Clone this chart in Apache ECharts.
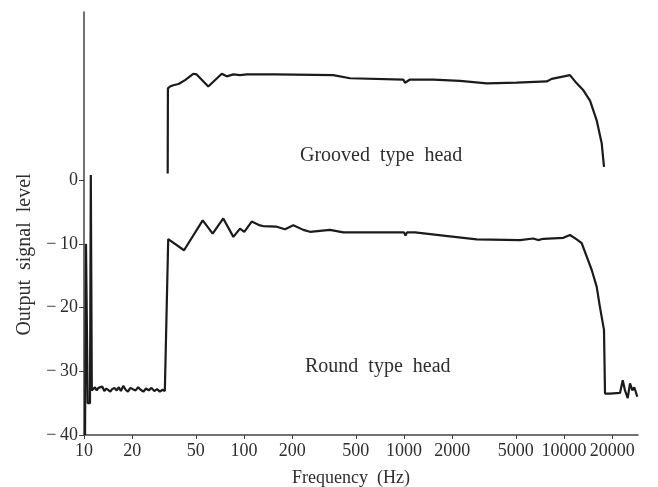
<!DOCTYPE html>
<html>
<head>
<meta charset="utf-8">
<script src="https://cdn.jsdelivr.net/npm/echarts@6/dist/echarts.min.js"></script>
<style>
html,body{margin:0;padding:0;background:#fff;}
#chart{width:658px;height:487px;}
</style>
</head>
<body>
<div id="chart"></div>
<script>
// X tick labels (Hz) and Y tick values
const xTicks = [10, 20, 50, 100, 200, 500, 1000, 2000, 5000, 10000, 20000];
const yTicks = [-40, -30, -20, -10, 0];

// Round type head
const roundFreq = [10.15, 10.29, 10.55, 10.9, 11.03, 11.19,
  11.4, 11.7, 12.0, 12.3, 12.6, 13.0, 13.4, 13.8, 14.2, 14.6, 15.0, 15.5, 16.0, 16.5, 17.0, 17.6,
  18.2, 18.8, 19.5, 20.2, 21.0, 21.8, 22.6, 23.5, 24.4, 25.4, 26.4, 27.5, 28.6, 29.8, 31.0, 32.0, 32.5,
  33.6, 42.2, 55.2, 63.7, 74.2, 85.8, 94.4, 100.4, 111.7, 125.9, 131.5, 160, 180.4, 203.4, 234.8,
  258.5, 344.7, 417.6, 742.6, 1000, 1021, 1044, 1172, 1762, 2846, 5309, 6431, 6880, 7430, 9908,
  10900, 12000, 12900, 13870, 14900, 16000, 16790, 17780, 18040, 19390, 22390, 23280, 24050, 25010,
  25850, 26730, 27490, 28710];
const roundLevel = [-40, -10, -35, -35, 0.8, -33,
  -32.8, -32.5, -33.0, -32.6, -32.9, -32.4, -33.1, -32.7, -32.5, -33.2, -32.8, -32.6, -33.0, -32.5, -33.1, -32.3,
  -32.9, -33.2, -32.6, -32.8, -33.0, -32.5, -32.9, -33.2, -32.7, -33.0, -32.6, -33.1, -32.8, -33.2, -32.9, -33.1, -33.2,
  -9.25, -11, -6.3, -8.4, -6.0, -8.9, -7.6, -8.1, -6.5, -7.1, -7.2, -7.3, -7.7, -7.06, -7.8,
  -8.1, -7.8, -8.2, -8.2, -8.2, -8.7, -8.2, -8.2, -8.7, -9.3, -9.4, -9.15, -9.4, -9.2, -9.05,
  -8.6, -9.3, -9.9, -12, -14.1, -16.7, -20, -23.5, -33.5, -33.5, -33.4, -31.4, -33.0, -34.2,
  -31.9, -33.0, -32.5, -34.0];

// Grooved type head (drawn offset above on the same scale)
const groovedFreq = [33.35, 33.45, 34.5, 36.1, 39.0, 42.8, 48.2, 50.6, 59.8, 72.6, 78, 85.8, 94.4, 104,
  156, 361, 459.7, 990, 1014, 1090, 1525, 2239, 3289, 5058, 7796, 8375, 10900, 12000, 13210, 14540,
  16000, 17210, 17780];
const groovedLevel = [1.05, 14.4, 14.7, 14.9, 15.1, 15.7, 16.7, 16.6, 14.7, 16.7, 16.3, 16.6, 16.5, 16.6,
  16.6, 16.5, 16.0, 15.8, 15.3, 15.8, 15.8, 15.6, 15.2, 15.3, 15.5, 15.9, 16.5, 15.2, 14.1, 12.5,
  9.4, 5.75, 2.1];

const zip = (a, b) => a.map((v, i) => [v, b[i]]);
const serif = '"Liberation Serif", "DejaVu Serif", serif';
const ink = '#1b1b1b';
const textColor = '#2e2e2e';

const chart = echarts.init(document.getElementById('chart'));
chart.setOption({
  animation: false,
  backgroundColor: '#fff',
  grid: {left: 84, right: 20, top: 12, bottom: 52, containLabel: false, outerBoundsMode: 'none'},
  xAxis: {
    type: 'log', logBase: 10, min: 10, max: 29000,
    name: 'Frequency  (Hz)', nameLocation: 'middle', nameGap: 34,
    nameTextStyle: {fontFamily: serif, fontSize: 18, color: textColor, padding: [0, 20, 0, 0]},
    axisLine: {show: true, onZero: false, lineStyle: {color: '#444', width: 1.5}},
    axisTick: {show: true, length: 4, customValues: xTicks, lineStyle: {color: '#444'}},
    axisLabel: {customValues: xTicks, fontFamily: serif, fontSize: 18, color: textColor, margin: 7,
      formatter: v => String(Math.round(v))},
    splitLine: {show: false},
    minorTick: {show: false}
  },
  yAxis: {
    type: 'value', min: -40, max: 26.4,
    name: 'Output  signal  level', nameLocation: 'middle', nameGap: 49, nameRotate: 90,
    nameTextStyle: {fontFamily: serif, fontSize: 20, color: textColor, padding: [0, 62, 0, 0]},
    axisLine: {show: true, onZero: false, lineStyle: {color: '#444', width: 1.5}},
    axisTick: {show: true, length: 5, customValues: yTicks, lineStyle: {color: '#444'}},
    axisLabel: {customValues: yTicks, fontFamily: serif, fontSize: 18, color: textColor, margin: 6,
      formatter: v => v < 0 ? '\u2212\u2009' + Math.abs(v) : String(v)},
    splitLine: {show: false}
  },
  graphic: [
    {type: 'text', left: 300, top: 146, style: {text: 'Grooved  type  head', font: '20px ' + serif, fill: textColor}},
    {type: 'text', left: 305, top: 357, style: {text: 'Round  type  head', font: '20px ' + serif, fill: textColor}}
  ],
  series: [
    {name: 'Round type head', type: 'line', data: zip(roundFreq, roundLevel), showSymbol: false,
      lineStyle: {color: ink, width: 2.2}, z: 3},
    {name: 'Grooved type head', type: 'line', data: zip(groovedFreq, groovedLevel), showSymbol: false,
      lineStyle: {color: ink, width: 2.2}, z: 3}
  ]
});
</script>
</body>
</html>
